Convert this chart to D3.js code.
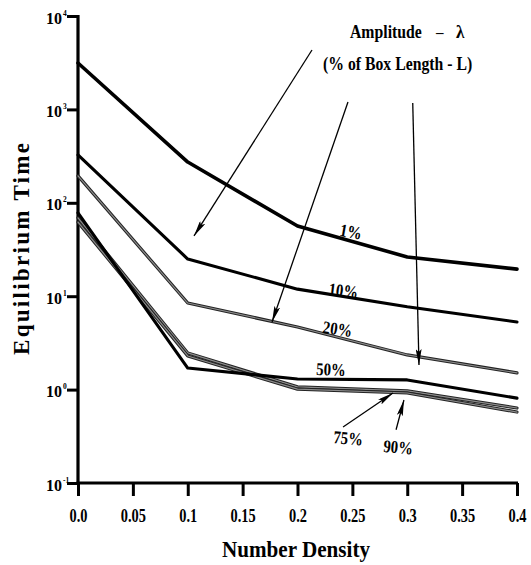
<!DOCTYPE html>
<html>
<head>
<meta charset="utf-8">
<script src="https://cdn.jsdelivr.net/npm/d3@7/dist/d3.min.js"></script>
<style>
  html, body { margin: 0; padding: 0; background: #fff; }
  svg { display: block; }
  text { font-family: "Liberation Serif", "DejaVu Serif", serif; font-weight: bold; fill: #000; }
</style>
</head>
<body>
<svg id="chart" width="531" height="565"></svg>
<script>
// Number density samples shared by every curve
const densities = [0.0, 0.1, 0.2, 0.3, 0.4];

// Equilibrium time for each amplitude (percent of box length)
const amp1  = [3140, 273, 56.5, 26.3, 19.5];
const amp10 = [325, 25.0, 11.9, 7.7, 5.3];
const amp20 = [194, 8.45, 4.68, 2.35, 1.51];
const amp50 = [78, 1.70, 1.30, 1.27, 0.81];
const amp75 = [69, 2.47, 1.07, 0.97, 0.635];
const amp90 = [62, 2.29, 1.01, 0.92, 0.575];

const seriesNames = ["1%", "10%", "20%", "50%", "75%", "90%"];
const seriesValues = [amp1, amp10, amp20, amp50, amp75, amp90];
const seriesGray = [false, false, true, false, true, true];

// Axis ticks
const xTicks = [0, 0.05, 0.1, 0.15, 0.2, 0.25, 0.3, 0.35, 0.4];
const xTickLabels = ["0.0", "0.05", "0.1", "0.15", "0.2", "0.25", "0.3", "0.35", "0.4"];
const yTicks = [0.1, 1, 10, 100, 1000, 10000];
const yTickExponents = ["-1", "0", "1", "2", "3", "4"];

// Curve labels placed in data space: [density, time, tilt]
const labelSpots = [
  [0.2378, 44.5, 10],
  [0.2278, 10.3, 7],
  [0.2224, 4.04, 8],
  [0.2169, 1.43, 2],
  [0.2323, 0.268, 5],
  [0.2779, 0.215, 5]
];

// Pointer arrows in data space: [fromDensity, fromTime, toDensity, toTime]
const arrows = [
  [0.2132, 4325, 0.1057, 44.2],
  [0.2460, 1200, 0.1768, 5.3],
  [0.3050, 1170, 0.3107, 1.83],
  [0.2415, 0.398, 0.2870, 0.92],
  [0.2898, 0.372, 0.2970, 0.774]
];

const svg = d3.select("#chart");
const x = d3.scaleLinear().domain([0, 0.4]).range([78, 517]);
const y = d3.scaleLog().domain([0.1, 10000]).range([483, 16]);

// squeeze glyphs horizontally for the narrow typeface look
function condense(sel, factor) {
  sel.each(function () {
    const w = this.getComputedTextLength();
    d3.select(this).attr("textLength", w * factor).attr("lengthAdjust", "spacingAndGlyphs");
  });
}

// ----- axes -----
const xAxis = svg.append("g")
  .attr("transform", `translate(0,${y(0.1)})`)
  .call(d3.axisBottom(x).tickValues(xTicks).tickSize(13).tickSizeOuter(0).tickFormat(() => ""));
xAxis.select(".domain").attr("stroke-width", 3.2).attr("d", `M${x(0) - 1.5},0H${x(0.4) + 1}`);
xAxis.selectAll(".tick line").attr("stroke-width", 3);
xAxis.selectAll(".tick").append("text")
  .attr("y", 39).attr("text-anchor", "middle").attr("font-size", 18)
  .text((d, i) => xTickLabels[i])
  .call(condense, 0.8);

const yAxis = svg.append("g")
  .attr("transform", `translate(${x(0)},0)`)
  .call(d3.axisLeft(y).tickValues(yTicks).tickSize(11).tickSizeOuter(0).tickFormat(() => ""));
yAxis.select(".domain").attr("stroke-width", 3.2).attr("d", `M0,${y(10000) - 1}V${y(0.1) + 1.5}`);
yAxis.selectAll(".tick line").attr("stroke-width", 3);
// base "10" and its exponent as separate pieces
yAxis.selectAll(".tick").append("text")
  .attr("x", -16).attr("y", 7).attr("text-anchor", "end").attr("font-size", 16)
  .text("10");
yAxis.selectAll(".tick").append("text")
  .attr("x", -15).attr("y", -1).attr("text-anchor", "start").attr("font-size", 7.5)
  .text((d, i) => yTickExponents[i]);

// axis titles
svg.append("text")
  .attr("x", 296).attr("y", 557).attr("text-anchor", "middle").attr("font-size", 24)
  .text("Number Density")
  .attr("textLength", 148).attr("lengthAdjust", "spacingAndGlyphs");

svg.append("text")
  .attr("transform", "translate(29,249) rotate(-90)")
  .attr("text-anchor", "middle").attr("font-size", 23)
  .text("Equilibrium  Time")
  .attr("textLength", 212).attr("lengthAdjust", "spacing");

// legend heading (narrowed with a horizontal scale)
svg.append("text").attr("transform", "translate(350,38) scale(0.83,1)").attr("font-size", 19)
  .text("Amplitude");
svg.append("text").attr("x", 436).attr("y", 37).attr("font-size", 15).text("–");
svg.append("text").attr("transform", "translate(456,38) scale(0.9,1)").attr("font-size", 19).text("λ");
svg.append("text").attr("transform", "translate(323,70) scale(0.83,1)").attr("font-size", 19)
  .text("(% of Box Length - L)");

// ----- curves -----
const line = d3.line().x((d, i) => x(densities[i])).y(d => y(d));
const curves = svg.append("g").attr("fill", "none").attr("stroke-linejoin", "round").attr("stroke-linecap", "round");
// draw gray curves first, black ones on top
const order = [2, 4, 5, 0, 1, 3];
order.forEach(k => {
  const vals = seriesValues[k];
  if (seriesGray[k]) {
    curves.append("path").attr("d", line(vals)).attr("stroke", "#222").attr("stroke-width", 3.2);
    curves.append("path").attr("d", line(vals)).attr("stroke", "#8c8c8c").attr("stroke-width", 1.2);
  } else {
    curves.append("path").attr("d", line(vals)).attr("stroke", "#000").attr("stroke-width", k === 0 ? 3.6 : 3.1);
  }
});

// ----- pointer arrows -----
svg.append("defs").append("marker")
  .attr("id", "head").attr("viewBox", "0 0 16 6").attr("refX", 16).attr("refY", 3)
  .attr("markerWidth", 16).attr("markerHeight", 6).attr("markerUnits", "userSpaceOnUse")
  .attr("orient", "auto")
  .append("path").attr("d", "M0,0L16,3L0,6L3,3Z").attr("fill", "#000");

svg.append("g").selectAll("line").data(arrows).join("line")
  .attr("x1", d => x(d[0])).attr("y1", d => y(d[1]))
  .attr("x2", d => x(d[2])).attr("y2", d => y(d[3]))
  .attr("stroke", "#000").attr("stroke-width", 1.3)
  .attr("marker-end", "url(#head)");

// ----- curve labels -----
svg.append("g").selectAll("text").data(labelSpots).join("text")
  .attr("transform", d => `translate(${x(d[0])},${y(d[1])}) rotate(${d[2]})`)
  .attr("font-size", 18)
  .text((d, i) => seriesNames[i])
  .call(condense, 0.82);
</script>
</body>
</html>
